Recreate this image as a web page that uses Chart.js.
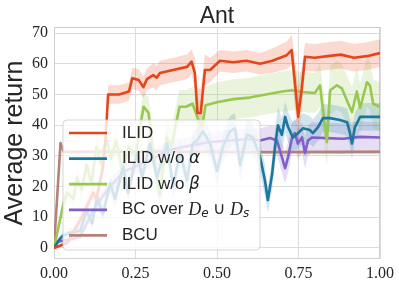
<!DOCTYPE html>
<html lang="en">
<head>
  <meta charset="UTF-8">
  <title>Ant</title>
  <script src="https://cdn.jsdelivr.net/npm/chart.js"></script>
  <style>
    html, body { margin: 0; padding: 0; background: #fff; }
    #wrap { width: 399px; height: 287px; }
  </style>
</head>
<body>
<div id="wrap"><canvas id="antChart" width="399" height="287"></canvas></div>

<script>
  // axis ticks
  const xTicks = [0, 0.25, 0.5, 0.75, 1];
  const xTickLabels = ['0.00', '0.25', '0.50', '0.75', '1.00'];
  const yTicks = [0, 10, 20, 30, 40, 50, 60, 70];

  // ILID
  const ilidX = [0, 0.04, 0.08, 0.10, 0.12, 0.13, 0.15, 0.158, 0.166, 0.20, 0.23, 0.24, 0.26, 0.274, 0.285, 0.304, 0.315, 0.325, 0.365, 0.408, 0.422, 0.432, 0.44, 0.45, 0.463, 0.479, 0.509, 0.55, 0.59, 0.632, 0.67, 0.714, 0.729, 0.738, 0.749, 0.76, 0.77, 0.80, 0.84, 0.88, 0.92, 0.96, 1.0];
  const ilidY = [0, 1.6, 9, 13.4, 18, 16, 26, 35, 50, 50, 51, 55.3, 54.7, 52.4, 55, 56.3, 55.5, 57, 58, 59, 60.7, 57, 44, 44, 58, 58, 61, 60.5, 61, 60, 61, 62.8, 64.5, 55, 42.7, 52, 62.3, 62, 62.5, 63, 62, 62.5, 63.5];
  const ilidSd = [0, 1, 2, 2, 2.5, 2.5, 3, 3.5, 3, 3, 3, 3.5, 3.5, 3.5, 3.5, 4, 4, 4, 4, 4, 4, 5, 8, 8, 5, 4, 3.5, 3.5, 3.5, 3.5, 4, 4.5, 5, 8, 9, 7, 4.5, 4.5, 4.5, 4.5, 4.5, 4.5, 4.5];

  // ILID w/o alpha
  const noAlphaX = [0, 0.018, 0.028, 0.049, 0.08, 0.10, 0.117, 0.132, 0.15, 0.172, 0.187, 0.212, 0.227, 0.255, 0.27, 0.294, 0.316, 0.347, 0.365, 0.387, 0.408, 0.426, 0.439, 0.457, 0.479, 0.5, 0.518, 0.54, 0.555, 0.571, 0.592, 0.61, 0.632, 0.647, 0.656, 0.669, 0.678, 0.687, 0.699, 0.709, 0.718, 0.733, 0.748, 0.764, 0.785, 0.794, 0.81, 0.825, 0.847, 0.877, 0.899, 0.908, 0.914, 0.923, 0.939, 0.969, 1.0];
  const noAlphaY = [0, 3, 4, 5, 5.5, 12, 8, 16.6, 11, 21, 16, 26.4, 18, 31, 23, 34, 23, 34, 20, 31, 22, 34, 35, 38, 34, 25, 33, 38, 39, 27, 37, 36, 29.7, 22, 15.6, 24, 33, 40, 36.8, 42.7, 39.4, 36, 37.4, 39, 38.4, 37.4, 39.4, 42.3, 42.3, 41.7, 41, 37.4, 34, 39.4, 42.7, 42.7, 42.7];
  const noAlphaSd = [0, 1, 1, 1.5, 1.5, 2, 2, 2.5, 2.5, 3, 3, 3, 3, 3.5, 3.5, 3.5, 3.5, 4, 4, 4, 4, 4, 4, 4.5, 4.5, 4.5, 4.5, 5, 5, 5, 5, 5, 5, 5, 4, 5, 5.5, 6, 5.5, 5, 5, 5, 5, 5, 4.5, 4.5, 4.5, 4.5, 4.5, 4.5, 4.5, 4.5, 5, 4.5, 4.5, 4.5, 4.5];

  // ILID w/o beta
  const noBetaX = [0, 0.028, 0.04, 0.06, 0.07, 0.085, 0.1, 0.115, 0.13, 0.145, 0.16, 0.175, 0.19, 0.21, 0.23, 0.25, 0.265, 0.275, 0.29, 0.305, 0.325, 0.345, 0.36, 0.385, 0.405, 0.425, 0.435, 0.445, 0.455, 0.465, 0.5, 0.55, 0.6, 0.65, 0.7, 0.73, 0.76, 0.8, 0.816, 0.837, 0.847, 0.868, 0.883, 0.899, 0.914, 0.929, 0.939, 0.96, 0.969, 0.979, 1.0];
  const noBetaY = [0, 14, 18, 16, 23, 19, 27, 21, 33, 27, 36, 29, 35, 25, 33, 30, 40, 46, 44, 30, 17, 36, 33, 46, 46, 47, 44, 41, 40, 46.5, 47.5, 48.5, 49, 50, 51, 51.4, 50.8, 50.5, 53, 34.5, 51.4, 53, 52, 48, 44.3, 51, 45.6, 54, 53, 47, 46];
  const noBetaSd = [0, 2, 2.5, 2.5, 3, 3, 3.5, 3.5, 4, 4, 4, 4, 4.5, 4.5, 4.5, 4.5, 5, 5, 5, 5.5, 6, 6, 6, 5.5, 5.5, 5.5, 6, 7, 7, 6, 6.5, 6.5, 6.5, 6.5, 6.5, 6.5, 6.5, 6.5, 7, 8, 8, 8, 8, 8, 8, 8, 8, 8, 8, 8, 8];

  // BC over De U Ds
  const bcX = [0, 0.01, 0.037, 0.06, 0.08, 0.1, 0.12, 0.141, 0.172, 0.215, 0.25, 0.3, 0.356, 0.426, 0.479, 0.54, 0.6, 0.632, 0.663, 0.684, 0.699, 0.709, 0.718, 0.73, 0.739, 0.748, 0.761, 0.77, 0.779, 0.791, 0.837, 0.887, 0.939, 1.0];
  const bcY = [0, 2, 2.6, 3, 3.6, 8, 12, 15.6, 20, 25, 26.5, 29, 32, 33.5, 34.5, 35, 35.5, 35, 35.8, 35, 29.6, 26, 29.6, 35.8, 37.4, 34, 36, 30.9, 35, 36, 35.8, 35.6, 36.2, 36];
  const bcSd = [0, 0.8, 1, 1, 1.2, 1.5, 2, 2, 2.5, 2.5, 2.5, 3, 3, 3, 3, 3.5, 3.5, 4, 4, 4.5, 5, 5, 5, 5, 5, 5, 5, 5, 5, 5, 5, 5, 5, 5];

  // BCU
  const bcuX = [0, 0.02, 0.03, 0.3, 0.6, 1.0];
  const bcuY = [0, 34.2, 31.3, 31.4, 31.2, 31.3];
  const bcuSd = [0, 1, 0.6, 0.6, 0.6, 0.6];

  const seriesColors = ['#e4461a', '#1c769e', '#97c84f', '#8060c8', '#b48276'];
  const bandColors = ['rgba(228,72,26,0.2)', 'rgba(28,118,158,0.2)', 'rgba(151,200,79,0.2)', 'rgba(128,96,200,0.2)', 'rgba(180,130,118,0.2)'];

  // legend labels, split into styled pieces
  const legendLabels = [
    [['ILID', 'n']],
    [['ILID w/o ', 'n'], ['α', 'i']],
    [['ILID w/o ', 'n'], ['β', 'i']],
    [['BC over ', 'n'], ['D', 'c'], ['e', 'sub'], [' ∪ ', 'n'], ['D', 'c'], ['s', 'sub']],
    [['BCU', 'n']]
  ];

  const series = [
    [ilidX, ilidY, ilidSd],
    [noAlphaX, noAlphaY, noAlphaSd],
    [noBetaX, noBetaY, noBetaSd],
    [bcX, bcY, bcSd],
    [bcuX, bcuY, bcuSd]
  ];

  const datasets = [];
  // bands first (drawn under every line)
  series.forEach(([xs, ys, sd], i) => {
    datasets.push({
      data: xs.map((x, k) => ({ x: x, y: ys[k] - sd[k] })),
      borderWidth: 0, pointRadius: 0, fill: false, order: 20 + i
    });
    datasets.push({
      data: xs.map((x, k) => ({ x: x, y: ys[k] + sd[k] })),
      borderWidth: 0, pointRadius: 0, fill: '-1',
      backgroundColor: bandColors[i], order: 20 + i
    });
  });
  series.forEach(([xs, ys], i) => {
    datasets.push({
      data: xs.map((x, k) => ({ x: x, y: ys[k] })),
      borderColor: seriesColors[i],
      borderWidth: 2.6,
      borderJoinStyle: 'round',
      pointRadius: 0,
      fill: false,
      tension: 0,
      order: i
    });
  });

  const textColor = '#262626';
  const gridColor = '#dcdcdc';

  const decorPlugin = {
    id: 'decor',
    beforeDatasetsDraw(chart) {
      const { ctx, chartArea: a } = chart;
      ctx.save();
      ctx.strokeStyle = '#d0d0d0';
      ctx.lineWidth = 1;
      ctx.strokeRect(a.left + 0.5, a.top + 0.5, a.right - a.left - 1, a.bottom - a.top - 1);
      ctx.restore();
    },
    afterDatasetsDraw(chart) {
      const { ctx, chartArea: a } = chart;
      ctx.save();
      // title
      ctx.fillStyle = textColor;
      ctx.font = '23px "Liberation Sans"';
      ctx.textAlign = 'center';
      ctx.textBaseline = 'alphabetic';
      ctx.fillText('Ant', (a.left + a.right) / 2, 23);

      // legend box
      const x0 = a.left + 9, y0 = a.top + 93, w = 197, h = 130;
      ctx.beginPath();
      ctx.roundRect(x0, y0, w, h, 4);
      ctx.fillStyle = 'rgba(255,255,255,0.8)';
      ctx.fill();
      ctx.strokeStyle = 'rgba(204,204,204,0.8)';
      ctx.lineWidth = 1;
      ctx.stroke();

      const fonts = {
        n: '17px "Liberation Sans"',
        i: 'italic 17px "DejaVu Sans"',
        c: 'italic 18px "Liberation Serif"',
        sub: 'italic 12px "DejaVu Sans"'
      };
      ctx.textAlign = 'left';
      ctx.textBaseline = 'middle';
      legendLabels.forEach((parts, i) => {
        const cy = y0 + 13 + i * 25.6;
        ctx.strokeStyle = seriesColors[i];
        ctx.lineWidth = 2.7;
        ctx.beginPath();
        ctx.moveTo(x0 + 6, cy);
        ctx.lineTo(x0 + 44, cy);
        ctx.stroke();
        let tx = x0 + 59;
        ctx.fillStyle = textColor;
        parts.forEach(([txt, kind]) => {
          ctx.font = fonts[kind];
          const dy = kind === 'sub' ? 4 : 0;
          ctx.fillText(txt, tx, cy + dy);
          tx += ctx.measureText(txt).width;
        });
      });
      ctx.restore();
    }
  };

  new Chart(document.getElementById('antChart'), {
    type: 'line',
    data: { datasets: datasets },
    plugins: [decorPlugin],
    options: {
      responsive: false,
      animation: false,
      devicePixelRatio: 1,
      layout: { padding: { top: 27, right: 19, left: 0, bottom: 0 } },
      plugins: {
        legend: { display: false },
        title: { display: false },
        tooltip: { enabled: false }
      },
      scales: {
        x: {
          type: 'linear',
          min: 0,
          max: 1,
          border: { display: false },
          grid: { color: gridColor, drawTicks: false },
          afterBuildTicks: s => { s.ticks = xTicks.map(v => ({ value: v })); },
          afterFit: s => { s.height = 28; },
          ticks: {
            autoSkip: false,
            maxRotation: 0,
            padding: 5,
            color: textColor,
            font: { family: '"Liberation Serif"', size: 16 },
            callback: v => xTickLabels[xTicks.indexOf(v)]
          }
        },
        y: {
          min: -3.6,
          max: 72,
          border: { display: false },
          grid: { color: gridColor, drawTicks: false },
          afterBuildTicks: s => { s.ticks = yTicks.map(v => ({ value: v })); },
          afterFit: s => { s.width = 54; },
          title: {
            display: true,
            text: 'Average return',
            color: textColor,
            font: { family: '"Liberation Sans"', size: 25 },
            padding: 0
          },
          ticks: {
            autoSkip: false,
            padding: 6,
            color: textColor,
            font: { family: '"Liberation Serif"', size: 16 }
          }
        }
      }
    }
  });
</script>
</body>
</html>
